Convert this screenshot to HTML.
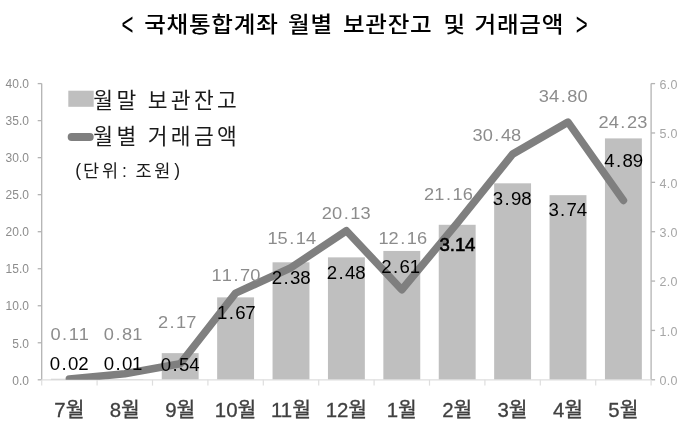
<!DOCTYPE html>
<html lang="ko"><head><meta charset="utf-8"><title>국채통합계좌 월별 보관잔고 및 거래금액</title>
<style>
html,body{margin:0;padding:0;background:#fff;}
body{width:698px;height:441px;overflow:hidden;}
svg{display:block;}
.ko{font-family:"Liberation Sans","Noto Sans CJK KR","NanumGothic",sans-serif;}
.num{font-family:"Liberation Sans",sans-serif;}
</style></head><body>
<svg width="698" height="441" viewBox="0 0 698 441">
<rect width="698" height="441" fill="#ffffff"/>

<g class="ko" font-size="22" font-weight="500" fill="#000" letter-spacing="0.7" transform="scale(1.07,1)">
<text y="31.8"><tspan x="134.77">국채통합계좌</tspan><tspan x="269.16">월별</tspan><tspan x="320.47">보관잔고</tspan><tspan x="414.58">및</tspan><tspan x="443.46">거래금액</tspan></text>
</g>
<g class="ko" font-size="22" font-weight="400" fill="#000">
<text transform="translate(121.4,34.8) scale(0.93,1.42)">&lt;</text>
<text transform="translate(575.7,34.8) scale(0.93,1.42)">&gt;</text>
</g>
<g fill="#bfbfbf">
<rect x="50.95" y="378.81" width="36.9" height="0.99"/>
<rect x="106.35" y="379.31" width="36.9" height="0.49"/>
<rect x="161.75" y="353.14" width="36.9" height="26.66"/>
<rect x="217.15" y="297.36" width="36.9" height="82.44"/>
<rect x="272.55" y="262.31" width="36.9" height="117.49"/>
<rect x="327.95" y="257.37" width="36.9" height="122.43"/>
<rect x="383.35" y="250.95" width="36.9" height="128.85"/>
<rect x="438.75" y="224.79" width="36.9" height="155.01"/>
<rect x="494.15" y="183.32" width="36.9" height="196.48"/>
<rect x="549.55" y="195.17" width="36.9" height="184.63"/>
<rect x="604.95" y="138.40" width="36.9" height="241.40"/>
</g>
<g stroke="#b3b3b3" stroke-width="1.3" fill="none">
<path d="M41.7 83.6V379.8"/>
<path d="M651.1 83.6V379.8"/>
<path d="M37.7 379.80H41.7"/>
<path d="M37.7 342.77H41.7"/>
<path d="M37.7 305.75H41.7"/>
<path d="M37.7 268.73H41.7"/>
<path d="M37.7 231.70H41.7"/>
<path d="M37.7 194.67H41.7"/>
<path d="M37.7 157.65H41.7"/>
<path d="M37.7 120.62H41.7"/>
<path d="M37.7 83.60H41.7"/>
<path d="M651.1 379.80h4"/>
<path d="M651.1 330.43h4"/>
<path d="M651.1 281.07h4"/>
<path d="M651.1 231.70h4"/>
<path d="M651.1 182.33h4"/>
<path d="M651.1 132.97h4"/>
<path d="M651.1 83.60h4"/>
</g>
<g stroke="#dedede" stroke-width="1.2" fill="none">
<path d="M41.7 379.8H651.1"/>
<path d="M41.70 379.8v5.8"/>
<path d="M97.10 379.8v5.8"/>
<path d="M152.50 379.8v5.8"/>
<path d="M207.90 379.8v5.8"/>
<path d="M263.30 379.8v5.8"/>
<path d="M318.70 379.8v5.8"/>
<path d="M374.10 379.8v5.8"/>
<path d="M429.50 379.8v5.8"/>
<path d="M484.90 379.8v5.8"/>
<path d="M540.30 379.8v5.8"/>
<path d="M595.70 379.8v5.8"/>
<path d="M651.10 379.8v5.8"/>
</g>
<g class="num" font-size="12" fill="#8c8c8c" text-anchor="end">
<text x="28.9" y="384.5">0.0</text>
<text x="28.9" y="347.5">5.0</text>
<text x="28.9" y="310.4">10.0</text>
<text x="28.9" y="273.4">15.0</text>
<text x="28.9" y="236.4">20.0</text>
<text x="28.9" y="199.4">25.0</text>
<text x="28.9" y="162.3">30.0</text>
<text x="28.9" y="125.3">35.0</text>
<text x="28.9" y="88.3">40.0</text>
</g>
<g class="num" font-size="12.5" fill="#a6a6a6" text-anchor="start" letter-spacing="0.3">
<text x="659.6" y="385.1">0.0</text>
<text x="659.6" y="335.7">1.0</text>
<text x="659.6" y="286.4">2.0</text>
<text x="659.6" y="237.0">3.0</text>
<text x="659.6" y="187.6">4.0</text>
<text x="659.6" y="138.3">5.0</text>
<text x="659.6" y="88.9">6.0</text>
</g>
<clipPath id="pc"><rect x="0" y="0" width="698" height="379.8"/></clipPath>
<polyline clip-path="url(#pc)" points="69.40,378.99 124.80,373.80 180.20,363.73 235.60,293.16 291.00,267.69 346.40,230.74 401.80,289.76 457.20,223.11 512.60,154.10 568.00,122.11 623.40,200.38" fill="none" stroke="#7f7f7f" stroke-width="7.6" stroke-linecap="round" stroke-linejoin="round"/>
<g class="num" font-size="17.6">
<text transform="scale(1.06,1)" x="52.41 60.99 69.58 79.20" y="340.1" fill="#8c8c8c" text-anchor="middle" font-size="17.2">0.11</text>
<text transform="scale(1.06,1)" x="102.74 111.32 119.91 129.53" y="340.1" fill="#8c8c8c" text-anchor="middle" font-size="17.2">0.81</text>
<text transform="scale(1.06,1)" x="153.77 162.36 170.94 180.57" y="328.0" fill="#8c8c8c" text-anchor="middle" font-size="17.2">2.17</text>
<text transform="scale(1.06,1)" x="204.43 214.06 222.64 231.23 240.85" y="281.2" fill="#8c8c8c" text-anchor="middle" font-size="17.2">11.70</text>
<text transform="scale(1.06,1)" x="257.08 266.70 275.28 283.87 293.49" y="244.4" fill="#8c8c8c" text-anchor="middle" font-size="17.2">15.14</text>
<text transform="scale(1.06,1)" x="308.44 318.07 326.65 335.24 344.86" y="218.6" fill="#8c8c8c" text-anchor="middle" font-size="17.2">20.13</text>
<text transform="scale(1.06,1)" x="361.75 371.37 379.95 388.54 398.16" y="244.4" fill="#8c8c8c" text-anchor="middle" font-size="17.2">12.16</text>
<text transform="scale(1.06,1)" x="404.86 414.48 423.07 431.65 441.27" y="200.5" fill="#8c8c8c" text-anchor="middle" font-size="17.2">21.16</text>
<text transform="scale(1.06,1)" x="450.52 460.14 468.73 477.31 486.93" y="140.6" fill="#8c8c8c" text-anchor="middle" font-size="17.2">30.48</text>
<text transform="scale(1.06,1)" x="513.16 522.78 531.37 539.95 549.58" y="101.9" fill="#8c8c8c" text-anchor="middle" font-size="17.2">34.80</text>
<text transform="scale(1.06,1)" x="569.43 579.06 587.64 596.23 605.85" y="128.2" fill="#8c8c8c" text-anchor="middle" font-size="17.2">24.23</text>
<text transform="scale(1.06,1)" x="51.89 60.47 69.06 78.68" y="370.3" fill="#000" text-anchor="middle" >0.02</text>
<text transform="scale(1.06,1)" x="102.74 111.32 119.91 129.53" y="370.3" fill="#000" text-anchor="middle" >0.01</text>
<text transform="scale(1.06,1)" x="156.56 165.14 173.73 183.35" y="370.7" fill="#000" text-anchor="middle" >0.54</text>
<text transform="scale(1.06,1)" x="209.58 218.16 226.75 236.37" y="318.8" fill="#000" text-anchor="middle" >1.67</text>
<text transform="scale(1.06,1)" x="261.27 269.86 278.44 288.07" y="284.5" fill="#000" text-anchor="middle" >2.38</text>
<text transform="scale(1.06,1)" x="313.16 321.75 330.33 339.95" y="279.3" fill="#000" text-anchor="middle" >2.48</text>
<text transform="scale(1.06,1)" x="364.58 373.16 381.75 391.37" y="273.0" fill="#000" text-anchor="middle" >2.61</text>
<text transform="scale(1.06,1)" x="419.53 426.84 434.15 443.49" y="250.7" fill="#000" text-anchor="middle" stroke="#000" stroke-width="0.55">3.14</text>
<text transform="scale(1.06,1)" x="469.76 478.35 486.93 496.56" y="205.1" fill="#000" text-anchor="middle" >3.98</text>
<text transform="scale(1.06,1)" x="522.26 530.85 539.43 549.06" y="216.3" fill="#000" text-anchor="middle" >3.74</text>
<text transform="scale(1.06,1)" x="574.95 583.54 592.12 601.75" y="166.8" fill="#000" text-anchor="middle" >4.89</text>
</g>
<g class="ko" font-size="20.4" fill="#404040" stroke="#404040" stroke-width="0.3" text-anchor="middle">
<text x="69.4" y="417">7월</text>
<text x="124.8" y="417">8월</text>
<text x="180.2" y="417">9월</text>
<text x="235.6" y="417">10월</text>
<text x="291.0" y="417">11월</text>
<text x="346.4" y="417">12월</text>
<text x="401.8" y="417">1월</text>
<text x="457.2" y="417">2월</text>
<text x="512.6" y="417">3월</text>
<text x="568.0" y="417">4월</text>
<text x="623.4" y="417">5월</text>
</g>
<rect x="68.3" y="90.7" width="25.4" height="16.1" fill="#bfbfbf"/>
<path d="M71.6 137H89.8" stroke="#7f7f7f" stroke-width="7.8" stroke-linecap="round" fill="none"/>
<g class="ko" font-size="21.5" fill="#1a1a1a" letter-spacing="3.3">
<text x="93.3" y="108" word-spacing="-1">월말 보관잔고</text>
<text x="93.3" y="144.3" word-spacing="-1">월별 거래금액</text>
</g>
<text class="ko" y="177.6" font-size="17.5" fill="#1a1a1a" letter-spacing="2.8"><tspan x="75.3" y="176.2">(</tspan><tspan x="83" y="177.4">단위</tspan><tspan x="122" y="177.4">:</tspan><tspan x="135.4" y="177.4">조원</tspan><tspan x="174.2" y="176.2">)</tspan></text>
</svg></body></html>
